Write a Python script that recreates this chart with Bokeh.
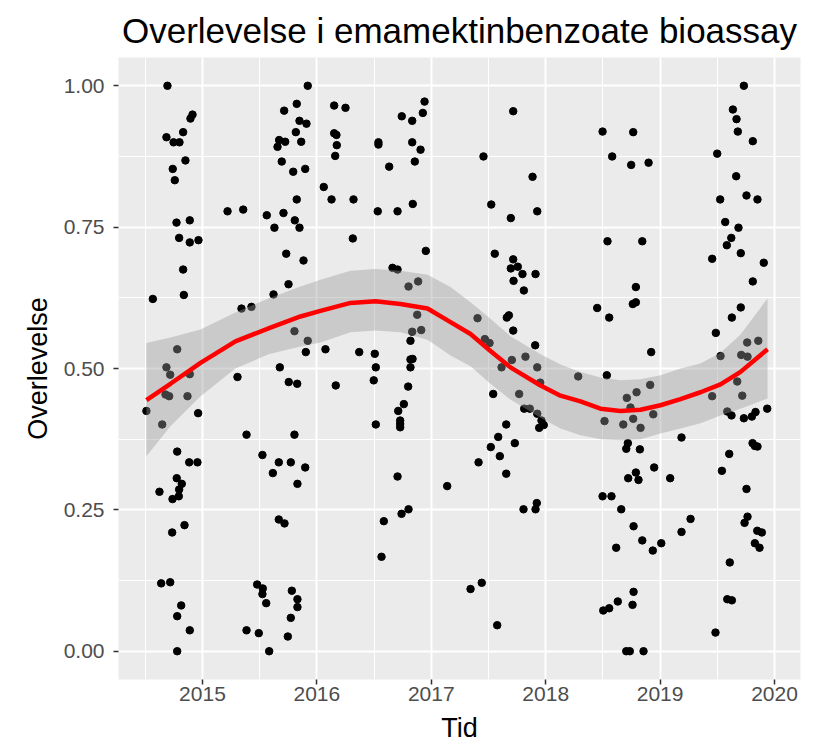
from bokeh.plotting import figure
from bokeh.models import FixedTicker, Range1d
from bokeh.embed import file_html
from bokeh.resources import INLINE

# ---- data ----
year = [
    2014.694, 2014.913, 2014.895, 2014.831, 2014.685, 2014.747, 2014.799, 2014.851, 2014.740, 2014.758,
    2015.219, 2014.773, 2014.889, 2014.796, 2014.889, 2014.965, 2014.831, 2014.566, 2014.837, 2014.779,
    2014.685, 2014.718, 2014.889, 2015.306, 2014.677, 2014.709, 2014.869, 2014.510, 2014.962, 2014.648,
    2014.779, 2014.884, 2014.956, 2014.775, 2014.819, 2014.624, 2014.796, 2014.793, 2014.738, 2014.843,
    2014.735, 2014.639, 2014.718, 2014.814, 2014.779, 2014.889, 2014.779,
    2015.920, 2015.824, 2015.714, 2016.151, 2016.250, 2015.848, 2015.909, 2015.816, 2016.151, 2016.171,
    2015.670, 2015.723, 2015.656, 2015.863, 2016.174, 2016.160, 2015.693, 2015.793, 2015.898, 2016.060,
    2015.824, 2016.128, 2016.320, 2015.356, 2015.562, 2015.708, 2015.807, 2015.848, 2015.629, 2016.314,
    2015.732, 2015.883, 2015.752, 2015.621, 2015.341, 2015.428, 2015.804, 2015.920, 2015.903, 2016.075,
    2015.676, 2015.754, 2015.828, 2016.165, 2015.385, 2015.804, 2015.524, 2015.667, 2015.772, 2015.898,
    2015.615, 2015.830, 2015.667, 2015.717, 2015.478, 2015.527, 2015.524, 2015.557, 2015.781, 2015.830,
    2015.830, 2015.772, 2015.385, 2015.492, 2015.746, 2015.583,
    2016.941, 2016.926, 2016.742, 2016.833, 2016.538, 2016.538, 2016.833, 2016.906, 2016.856, 2016.632,
    2016.532, 2016.705, 2016.838, 2016.952, 2016.661, 2016.705, 2016.801, 2016.885, 2016.877, 2016.833,
    2016.912, 2016.818, 2016.370, 2016.506, 2016.818, 2016.836, 2016.515, 2016.818, 2016.497, 2016.798,
    2016.760, 2016.711, 2016.728, 2016.728, 2016.728, 2016.515, 2016.705, 2017.139, 2016.801, 2016.740,
    2016.585, 2016.565, 2017.343,
    2017.716, 2017.456, 2017.885, 2017.524, 2017.695, 2017.926, 2017.555, 2017.716, 2017.695, 2017.756,
    2017.797, 2017.911, 2017.719, 2017.809, 2017.404, 2017.660, 2017.678, 2017.716, 2017.468, 2017.509,
    2017.908, 2017.704, 2017.823, 2017.614, 2017.926, 2018.284, 2017.952, 2017.541, 2017.768, 2017.812,
    2017.861, 2017.926, 2017.963, 2017.983, 2017.943, 2017.655, 2017.585, 2017.730, 2017.520, 2017.599,
    2017.413, 2017.655, 2017.806, 2017.922, 2017.911, 2017.441, 2017.576,
    2018.497, 2018.765, 2018.581, 2018.747, 2018.899, 2018.540, 2018.844, 2018.788, 2018.761, 2018.788,
    2018.450, 2018.555, 2018.922, 2018.534, 2018.913, 2018.794, 2018.709, 2018.741, 2018.940, 2018.765,
    2018.514, 2018.678, 2018.829, 2019.187, 2018.718, 2018.704, 2018.823, 2018.948, 2018.788, 2018.721,
    2018.811, 2019.088, 2018.497, 2018.575, 2018.660, 2019.266, 2018.768, 2019.187, 2018.844, 2019.010,
    2018.616, 2018.936, 2018.768, 2018.630, 2018.759, 2018.503, 2018.555, 2018.704, 2018.735, 2018.855,
    2019.732, 2019.636, 2019.668, 2019.679, 2019.810, 2019.499, 2019.665, 2019.525, 2019.755, 2019.851,
    2019.569, 2019.685, 2019.622, 2019.583, 2019.455, 2019.705, 2019.906, 2019.810, 2019.705, 2019.627,
    2019.487, 2019.761, 2019.858, 2019.528, 2019.709, 2019.764, 2019.674, 2019.455, 2019.718, 2019.587,
    2019.624, 2019.732, 2019.802, 2019.834, 2019.936, 2019.808, 2019.828, 2019.851, 2019.604, 2019.540,
    2019.755, 2019.764, 2019.738, 2019.849, 2019.889, 2019.828, 2019.869, 2019.609, 2019.587, 2019.627,
    2019.484,
]
survival = [
    1.000, 0.949, 0.942, 0.918, 0.909, 0.900, 0.900, 0.868, 0.853, 0.833,
    0.778, 0.758, 0.762, 0.731, 0.723, 0.727, 0.675, 0.623, 0.630, 0.534,
    0.502, 0.489, 0.490, 0.485, 0.454, 0.451, 0.451, 0.425, 0.421, 0.401,
    0.353, 0.334, 0.334, 0.306, 0.296, 0.282, 0.286, 0.274, 0.269, 0.223,
    0.210, 0.120, 0.122, 0.081, 0.062, 0.037, 0.000,
    1.000, 0.968, 0.956, 0.965, 0.961, 0.938, 0.933, 0.918, 0.916, 0.913,
    0.904, 0.901, 0.892, 0.901, 0.895, 0.876, 0.866, 0.848, 0.853, 0.821,
    0.799, 0.799, 0.799, 0.781, 0.771, 0.775, 0.762, 0.749, 0.749, 0.730,
    0.703, 0.691, 0.649, 0.631, 0.606, 0.609, 0.566, 0.549, 0.529, 0.534,
    0.502, 0.476, 0.473, 0.470, 0.383, 0.383, 0.347, 0.334, 0.334, 0.325,
    0.315, 0.296, 0.233, 0.226, 0.118, 0.111, 0.101, 0.085, 0.107, 0.092,
    0.078, 0.059, 0.037, 0.032, 0.026, 0.000,
    0.972, 0.952, 0.946, 0.938, 0.900, 0.896, 0.900, 0.887, 0.866, 0.857,
    0.778, 0.778, 0.791, 0.708, 0.678, 0.675, 0.645, 0.654, 0.595, 0.565,
    0.568, 0.549, 0.529, 0.526, 0.516, 0.517, 0.502, 0.502, 0.479, 0.468,
    0.437, 0.425, 0.408, 0.402, 0.396, 0.401, 0.309, 0.292, 0.251, 0.243,
    0.230, 0.167, 0.110,
    0.955, 0.875, 0.839, 0.790, 0.766, 0.778, 0.703, 0.693, 0.677, 0.680,
    0.667, 0.667, 0.655, 0.638, 0.589, 0.590, 0.594, 0.567, 0.552, 0.545,
    0.541, 0.515, 0.521, 0.502, 0.502, 0.486, 0.475, 0.455, 0.455, 0.429,
    0.429, 0.420, 0.408, 0.400, 0.395, 0.401, 0.379, 0.368, 0.361, 0.345,
    0.334, 0.314, 0.251, 0.262, 0.251, 0.121, 0.046,
    0.919, 0.918, 0.875, 0.860, 0.864, 0.725, 0.725, 0.644, 0.614, 0.617,
    0.607, 0.590, 0.529, 0.488, 0.471, 0.458, 0.448, 0.431, 0.419, 0.411,
    0.407, 0.401, 0.395, 0.378, 0.368, 0.358, 0.357, 0.325, 0.316, 0.306,
    0.303, 0.306, 0.274, 0.274, 0.251, 0.234, 0.221, 0.211, 0.196, 0.191,
    0.183, 0.178, 0.105, 0.088, 0.082, 0.072, 0.076, 0.000, 0.000, 0.000,
    1.000, 0.958, 0.941, 0.919, 0.902, 0.880, 0.840, 0.799, 0.806, 0.799,
    0.759, 0.749, 0.731, 0.718, 0.694, 0.704, 0.687, 0.654, 0.608, 0.590,
    0.563, 0.546, 0.549, 0.522, 0.524, 0.521, 0.477, 0.451, 0.452, 0.424,
    0.417, 0.412, 0.415, 0.423, 0.429, 0.368, 0.363, 0.362, 0.349, 0.319,
    0.287, 0.238, 0.227, 0.213, 0.210, 0.191, 0.183, 0.157, 0.092, 0.090,
    0.033,
]

# loess smooth with confidence band
smooth_year = [2014.510, 2014.720, 2014.983, 2015.288, 2015.577, 2015.857, 2016.031, 2016.294,
               2016.512, 2016.731, 2016.967, 2017.168, 2017.343, 2017.517, 2017.692, 2017.955,
               2018.129, 2018.304, 2018.479, 2018.654, 2018.829, 2019.003, 2019.178, 2019.353,
               2019.528, 2019.703, 2019.939]
smooth_fit = [0.444, 0.473, 0.510, 0.548, 0.571, 0.592, 0.602, 0.616,
              0.619, 0.614, 0.606, 0.582, 0.561, 0.531, 0.502, 0.470,
              0.452, 0.442, 0.429, 0.425, 0.427, 0.435, 0.446, 0.458,
              0.472, 0.494, 0.534]
smooth_upper = [0.545, 0.555, 0.569, 0.599, 0.624, 0.645, 0.657, 0.673,
                0.676, 0.673, 0.666, 0.644, 0.617, 0.588, 0.557, 0.525,
                0.507, 0.494, 0.484, 0.479, 0.481, 0.488, 0.500, 0.509,
                0.528, 0.560, 0.624]
smooth_lower = [0.345, 0.398, 0.451, 0.500, 0.525, 0.539, 0.546, 0.564,
                0.567, 0.564, 0.551, 0.523, 0.504, 0.473, 0.445, 0.413,
                0.394, 0.382, 0.375, 0.373, 0.375, 0.385, 0.394, 0.403,
                0.417, 0.429, 0.447]

x_ticks = [2015, 2016, 2017, 2018, 2019, 2020]
x_minor = [2014.5, 2015.5, 2016.5, 2017.5, 2018.5, 2019.5]
y_ticks = [0.0, 0.25, 0.5, 0.75, 1.0]
y_tick_labels = ["0.00", "0.25", "0.50", "0.75", "1.00"]
y_minor = [0.125, 0.375, 0.625, 0.875]

FONT = "Liberation Sans"

p = figure(width=801, height=747, output_backend="svg", toolbar_location=None,
           x_range=Range1d(2014.266, 2020.227), y_range=Range1d(-0.05, 1.05),
           min_border_left=118, min_border_right=1, min_border_top=57, min_border_bottom=68)
p.background_fill_color = "#EBEBEB"
p.border_fill_color = "white"
p.outline_line_color = None

p.scatter(year, survival, size=7.5, color="black")
p.varea(x=smooth_year, y1=smooth_lower, y2=smooth_upper, fill_color="#999999", fill_alpha=0.4)
p.line(smooth_year, smooth_fit, line_color="red", line_width=4.5)

p.xaxis.ticker = FixedTicker(ticks=x_ticks, minor_ticks=x_minor)
p.yaxis.ticker = FixedTicker(ticks=y_ticks, minor_ticks=y_minor)
p.yaxis.major_label_overrides = {t: l for t, l in zip(y_ticks, y_tick_labels)}
p.xaxis.major_label_overrides = {t: str(t) for t in x_ticks}

for g in (p.xgrid, p.ygrid):
    g.grid_line_color = "white"
    g.grid_line_width = 2
    g.minor_grid_line_color = "white"
    g.minor_grid_line_width = 1

for ax in (p.xaxis, p.yaxis):
    ax.axis_line_color = None
    ax.major_tick_line_color = "#333333"
    ax.major_tick_line_width = 1.5
    ax.major_tick_out = 5
    ax.major_tick_in = 0
    ax.minor_tick_line_color = None
    ax.major_label_text_color = "#4D4D4D"
    ax.major_label_text_font = FONT
    ax.major_label_text_font_size = "21px"
    ax.axis_label_text_font = FONT
    ax.axis_label_text_font_size = "27px"
    ax.axis_label_text_font_style = "normal"
    ax.axis_label_text_color = "black"

p.xaxis.major_label_standoff = 2
p.yaxis.major_label_standoff = 9
p.xaxis.axis_label_standoff = 9
p.yaxis.axis_label_standoff = 8

p.xaxis.axis_label = "Tid"
p.yaxis.axis_label = "Overlevelse"

p.title.text = "Overlevelse i emamektinbenzoate bioassay"
p.title.align = "center"
p.title.text_font = FONT
p.title.text_font_size = "35px"
p.title.text_font_style = "normal"
p.title.text_color = "black"
p.title.standoff = 15

open("out.html", "w").write(file_html(p, INLINE))
